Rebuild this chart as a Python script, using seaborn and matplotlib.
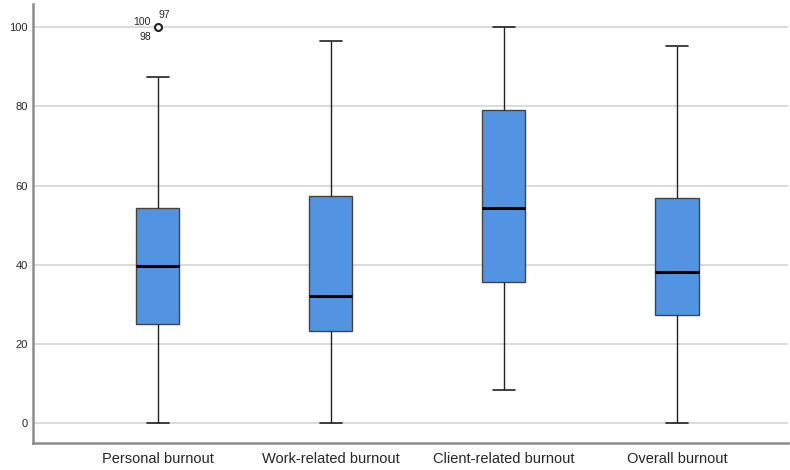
import pandas as pd
import numpy as np
import matplotlib.pyplot as plt
import seaborn as sns

categories = ['Personal burnout', 'Work-related burnout', 'Client-related burnout', 'Overall burnout']
whisker_low = [0.0, 0.0, 8.3, 0.0]
q1 = [25.0, 23.2, 35.6, 27.4]
median = [39.6, 32.2, 54.2, 38.1]
q3 = [54.2, 57.3, 79.2, 56.9]
whisker_high = [87.5, 96.4, 100.0, 95.2]
outliers = [[100.0], [], [], []]
outlier_labels = ['100', '97', '98']

# samples that reproduce the box summaries (quartiles at fixed ranks)
rows = []
for i, cat in enumerate(categories):
    top = outliers[i][0] if outliers[i] else whisker_high[i]
    vals = [whisker_low[i], q1[i], q1[i], median[i], median[i], q3[i], q3[i], whisker_high[i], top]
    for v in vals:
        rows.append({'grupo': cat, 'valor': v})
df = pd.DataFrame(rows)

sns.set_style('white')
plt.rcParams['font.family'] = ['Liberation Sans', 'DejaVu Sans']

fig = plt.figure(figsize=(7.9, 4.7), dpi=100)
ax = fig.add_axes([0.042, 0.057, 0.955, 0.934])

sns.boxplot(data=df, x='grupo', y='valor', ax=ax, width=0.25, color='#5294e2',
            saturation=1, linecolor='#222222', linewidth=1.0, whis=1.5,
            boxprops=dict(edgecolor='#444444', linewidth=1.0),
            medianprops=dict(color='black', linewidth=2.2),
            whiskerprops=dict(color='#222222', linewidth=1.0),
            capprops=dict(color='#222222', linewidth=1.2),
            flierprops=dict(marker='o', markersize=5, markerfacecolor='white',
                            markeredgecolor='#222222', markeredgewidth=1.5),
            zorder=3)

# etiquetas de casos atípicos
ax.text(-0.04, 100.0, outlier_labels[0], fontsize=7.5, ha='right', va='bottom')
ax.text(0.005, 101.8, outlier_labels[1], fontsize=7.5, ha='left', va='bottom')
ax.text(-0.04, 98.8, outlier_labels[2], fontsize=7.5, ha='right', va='top')

ax.set_xlim(-0.72, 3.64)
ax.set_ylim(-5.1, 105.8)
ax.set_yticks([0, 20, 40, 60, 80, 100])
ax.yaxis.grid(True, color='#d4d4d4', linewidth=1.2, zorder=0)
ax.set_axisbelow(True)
ax.set_xlabel('')
ax.set_ylabel('')
ax.tick_params(axis='y', labelsize=8, length=0, pad=4)
ax.tick_params(axis='x', labelsize=10.5, length=0, pad=6)
for s in ['top', 'right']:
    ax.spines[s].set_visible(False)
for s in ['left', 'bottom']:
    ax.spines[s].set_color('#8c8c8c')
    ax.spines[s].set_linewidth(1.8)

fig.savefig('out.png', dpi=100)
plt.close()
